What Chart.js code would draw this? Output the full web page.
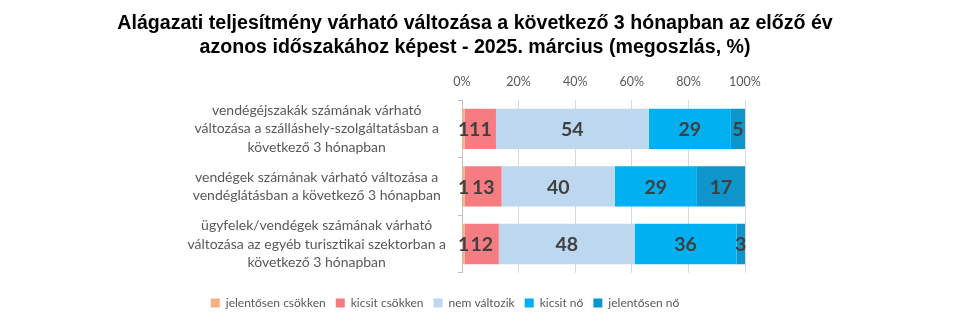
<!DOCTYPE html>
<html>
<head>
<meta charset="utf-8">
<script src="https://cdn.jsdelivr.net/npm/chart.js@4.4.1/dist/chart.umd.min.js"></script>
<style>
    html, body { margin: 0; padding: 0; background: #fff; }
    #wrap { position: relative; width: 973px; height: 329px; }
    #title {
        position: absolute; left: 0; top: 10px; width: 950px;
        text-align: center; font: bold 19.6px "Liberation Sans", Arial, sans-serif;
        line-height: 24px; color: #000;
    }
    canvas { position: absolute; left: 0; top: 0; }
</style>
</head>
<body>
<div id="wrap">
    <canvas id="chart" width="973" height="329"></canvas>
    <div id="title">Alágazati teljesítmény várható változása a következő 3 hónapban az előző év<br>azonos időszakához képest - 2025. március (megoszlás, %)</div>
</div>
<script>
    const categories = [
        ['vendégéjszakák számának várható', 'változása a szálláshely-szolgáltatásban a', 'következő 3 hónapban'],
        ['vendégek számának várható változása a', 'vendéglátásban a következő 3 hónapban'],
        ['ügyfelek/vendégek számának várható', 'változása az egyéb turisztikai szektorban a', 'következő 3 hónapban']
    ];
    const seriesNames = ['jelentősen csökken', 'kicsit csökken', 'nem változik', 'kicsit nő', 'jelentősen nő'];
    const seriesColors = ['#F4B183', '#F57C80', '#BDD7EE', '#00B0F0', '#0E95CC'];
    const jelentosenCsokken = [1, 1, 1];
    const kicsitCsokken = [11, 13, 12];
    const nemValtozik = [54, 40, 48];
    const kicsitNo = [29, 29, 36];
    const jelentosenNo = [5, 17, 3];
    const xTicks = ['0%', '20%', '40%', '60%', '80%', '100%'];

    const seriesValues = [jelentosenCsokken, kicsitCsokken, nemValtozik, kicsitNo, jelentosenNo];

    // value labels in the middle of each segment
    const segmentLabels = {
        id: 'segmentLabels',
        afterDatasetsDraw(chart) {
            const ctx = chart.ctx;
            ctx.save();
            ctx.font = 'bold 19.5px Lato, sans-serif';
            ctx.fillStyle = '#404040';
            ctx.textAlign = 'center';
            ctx.textBaseline = 'middle';
            chart.data.datasets.forEach((ds, i) => {
                chart.getDatasetMeta(i).data.forEach((bar, j) => {
                    ctx.fillText(String(ds.data[j]), (bar.x + bar.base) / 2, bar.y + 1);
                });
            });
            ctx.restore();
        }
    };

    const ctx = document.getElementById('chart').getContext('2d');
    new Chart(ctx, {
        type: 'bar',
        data: {
            labels: categories,
            datasets: seriesNames.map((name, i) => ({
                label: name,
                data: seriesValues[i],
                backgroundColor: seriesColors[i],
                barPercentage: 0.7,
                categoryPercentage: 1.0
            }))
        },
        options: {
            indexAxis: 'y',
            responsive: false,
            animation: false,
            layout: { padding: { left: 145, right: 228, top: 63, bottom: 10 } },
            scales: {
                x: {
                    position: 'top',
                    stacked: true,
                    min: 0,
                    max: 100,
                    border: { display: false },
                    grid: { color: '#D9D9D9', drawTicks: false },
                    ticks: {
                        stepSize: 20,
                        padding: 11,
                        color: '#595959',
                        font: { family: 'Lato, sans-serif', size: 12.5 },
                        callback: (v) => xTicks[v / 20]
                    }
                },
                y: {
                    stacked: true,
                    border: { display: true, color: '#BFBFBF' },
                    grid: { drawOnChartArea: false, drawTicks: true, tickLength: 4, color: '#BFBFBF' },
                    afterFit: (scale) => { scale.width = 462 - 145; },
                    ticks: {
                        crossAlign: 'center',
                        padding: 12,
                        color: '#595959',
                        font: { family: 'Lato, sans-serif', size: 14, lineHeight: 1.3 }
                    }
                }
            },
            plugins: {
                legend: {
                    position: 'bottom',
                    title: { display: true, text: '', font: { size: 1 }, padding: { top: 0, bottom: 13 } },
                    labels: {
                        boxWidth: 9,
                        boxHeight: 9,
                        padding: 10,
                        color: '#595959',
                        font: { family: 'Lato, sans-serif', size: 12 }
                    }
                },
                tooltip: { enabled: false }
            }
        },
        plugins: [segmentLabels]
    });
</script>
</body>
</html>
